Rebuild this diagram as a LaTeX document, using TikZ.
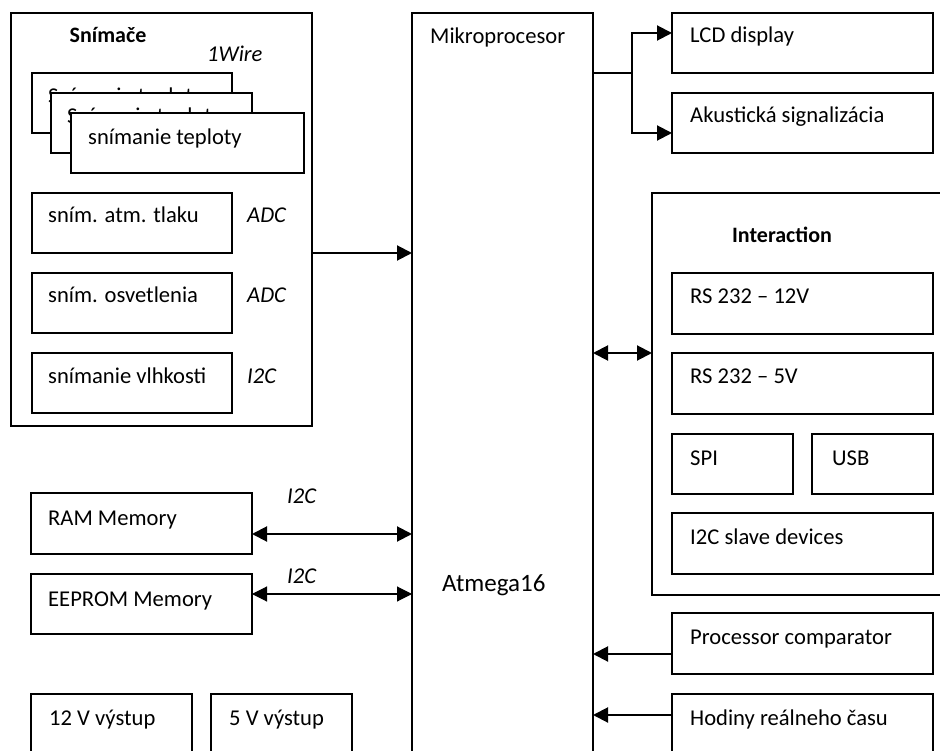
\documentclass[tikz,border=0pt]{standalone}
\usepackage{fontspec}
\setmainfont{Carlito}
\usetikzlibrary{arrows.meta}
\begin{document}
\begin{tikzpicture}[x=1pt,y=-1pt,
  box/.style={draw, line width=1.3pt, fill=white, anchor=north west, inner sep=0pt, outer sep=0pt},
  txt/.style={anchor=base west, inner sep=0pt, font=\fontsize{22.6}{26}\selectfont},
  itxt/.style={txt, font=\fontsize{22.6}{26}\selectfont\itshape},
  btxt/.style={anchor=base, inner sep=0pt, font=\fontsize{22}{26}\selectfont\bfseries},
  arr/.style={line width=2pt, -{Triangle[length=15pt,width=15pt]}},
  dbl/.style={line width=2pt, {Triangle[length=15pt,width=15pt]}-{Triangle[length=15pt,width=15pt]}},
  thindbl/.style={line width=1.1pt, {Triangle[length=15pt,width=15pt]}-{Triangle[length=15pt,width=15pt]}},
  thin/.style={line width=1.1pt}]
\useasboundingbox (0,0) rectangle (940,751);
\clip (0,0) rectangle (940,751);
\fill[white] (0,0) rectangle (940,751);

% Snimace group
\node[box, minimum width=301pt, minimum height=413pt] (snim) at (11,13) {};
\node[btxt] (snimt) at (108,43) {Snímače};
\node[itxt] (wire) at (207,62) {1Wire};
\node[box, minimum width=200pt, minimum height=60pt] (t1) at (32,73) {};
\node[txt] (t1l) at ([shift={(16pt,-31pt)}]t1.north west) {Snímanie teploty};
\node[box, minimum width=201pt, minimum height=60pt] (t2) at (51,93) {};
\node[txt] (t2l) at ([shift={(16pt,-31pt)}]t2.north west) {Snímanie teploty};
\node[box, minimum width=233pt, minimum height=60pt] (t3) at (71,113) {};
\node[txt] (t3l) at ([shift={(17pt,-32pt)}]t3.north west) {snímanie teploty};
\node[box, minimum width=200pt, minimum height=60pt] (atm) at (32,193) {};
\node[txt] (atml) at ([shift={(16pt,-30pt)}]atm.north west) {sním. atm. tlaku};
\node[itxt] (adc1) at (247,223) {ADC};
\node[box, minimum width=200pt, minimum height=60pt] (osv) at (32,273) {};
\node[txt] (osvl) at ([shift={(16pt,-30pt)}]osv.north west) {sním. osvetlenia};
\node[itxt] (adc2) at (247,303) {ADC};
\node[box, minimum width=200pt, minimum height=60pt] (vlh) at (32,353) {};
\node[txt] (vlhl) at ([shift={(16pt,-30pt)}]vlh.north west) {snímanie vlhkosti};
\node[itxt] (i2c1) at (247,383) {I2C};

% Mikroprocesor
\node[box, minimum width=181pt, minimum height=760pt] (mikro) at (412,13) {};
\node[txt] (mikrol) at (430,44) {Mikroprocesor};
\node[txt, font=\fontsize{25}{30}\selectfont] (atmega) at (442,591) {Atmega16};

% Outputs
\node[box, minimum width=261pt, minimum height=60pt] (lcd) at (672,13) {};
\node[txt] (lcdl) at ([shift={(18pt,-30pt)}]lcd.north west) {LCD display};
\node[box, minimum width=261pt, minimum height=60pt] (aku) at (672,93) {};
\node[txt] (akul) at ([shift={(18pt,-30pt)}]aku.north west) {Akustická signalizácia};

% Interaction
\node[box, minimum width=320pt, minimum height=402pt] (inter) at (652,193) {};
\node[btxt] (interl) at (782,243) {Interaction};
\node[box, minimum width=261pt, minimum height=61pt] (rs12) at (672,273) {};
\node[txt] (rs12l) at ([shift={(18pt,-31pt)}]rs12.north west) {RS 232 – 12V};
\node[box, minimum width=261pt, minimum height=61pt] (rs5) at (672,353) {};
\node[txt] (rs5l) at ([shift={(18pt,-31pt)}]rs5.north west) {RS 232 – 5V};
\node[box, minimum width=121pt, minimum height=60pt] (spi) at (672,434) {};
\node[txt] (spil) at ([shift={(18pt,-31pt)}]spi.north west) {SPI};
\node[box, minimum width=121pt, minimum height=60pt] (usb) at (812,434) {};
\node[txt] (usbl) at ([shift={(20pt,-31pt)}]usb.north west) {USB};
\node[box, minimum width=261pt, minimum height=61pt] (i2cs) at (672,513) {};
\node[txt] (i2csl) at ([shift={(18pt,-31pt)}]i2cs.north west) {I2C slave devices};

% Inputs right
\node[box, minimum width=261pt, minimum height=61pt] (comp) at (672,613) {};
\node[txt] (compl) at ([shift={(18pt,-31pt)}]comp.north west) {Processor comparator};
\node[box, minimum width=261pt, minimum height=90pt] (hod) at (672,694) {};
\node[txt] (hodl) at ([shift={(18pt,-31pt)}]hod.north west) {Hodiny reálneho času};

% Memory
\node[box, minimum width=221pt, minimum height=61pt] (ram) at (31,493) {};
\node[txt] (raml) at ([shift={(17pt,-32pt)}]ram.north west) {RAM Memory};
\node[itxt] (i2c2) at (287,503) {I2C};
\node[box, minimum width=221pt, minimum height=60pt] (eep) at (31,574) {};
\node[txt] (eepl) at ([shift={(17pt,-32pt)}]eep.north west) {EEPROM Memory};
\node[itxt] (i2c3) at (287,583) {I2C};

% Power
\node[box, minimum width=161pt, minimum height=90pt] (v12) at (31,694) {};
\node[txt] (v12l) at ([shift={(18pt,-31pt)}]v12.north west) {12 V výstup};
\node[box, minimum width=141pt, minimum height=90pt] (v5) at (211,694) {};
\node[txt] (v5l) at ([shift={(18pt,-31pt)}]v5.north west) {5 V výstup};

% Connectors
\draw[arr] ([yshift=-240pt]snim.north east) coordinate (s1) -- (s1 -| mikro.west);
\coordinate (j) at (632,73);
\draw[thin] (j -| mikro.east) -- (j);
\draw[arr] (j) |- ([yshift=-20pt]lcd.north west);
\draw[arr] (j) |- ([yshift=-40pt]aku.north west);
\draw[dbl] ([yshift=-160pt]inter.north west) coordinate (in1) -- (in1 -| mikro.east);
\draw[dbl] ([yshift=-41pt]ram.north east) coordinate (r1) -- (r1 -| mikro.west);
\draw[thindbl] ([yshift=-20pt]eep.north east) coordinate (e1) -- (e1 -| mikro.west);
\draw[arr] ([yshift=-41pt]comp.north west) coordinate (c1) -- (c1 -| mikro.east);
\draw[arr] ([yshift=-21pt]hod.north west) coordinate (h1) -- (h1 -| mikro.east);
\end{tikzpicture}
\end{document}
